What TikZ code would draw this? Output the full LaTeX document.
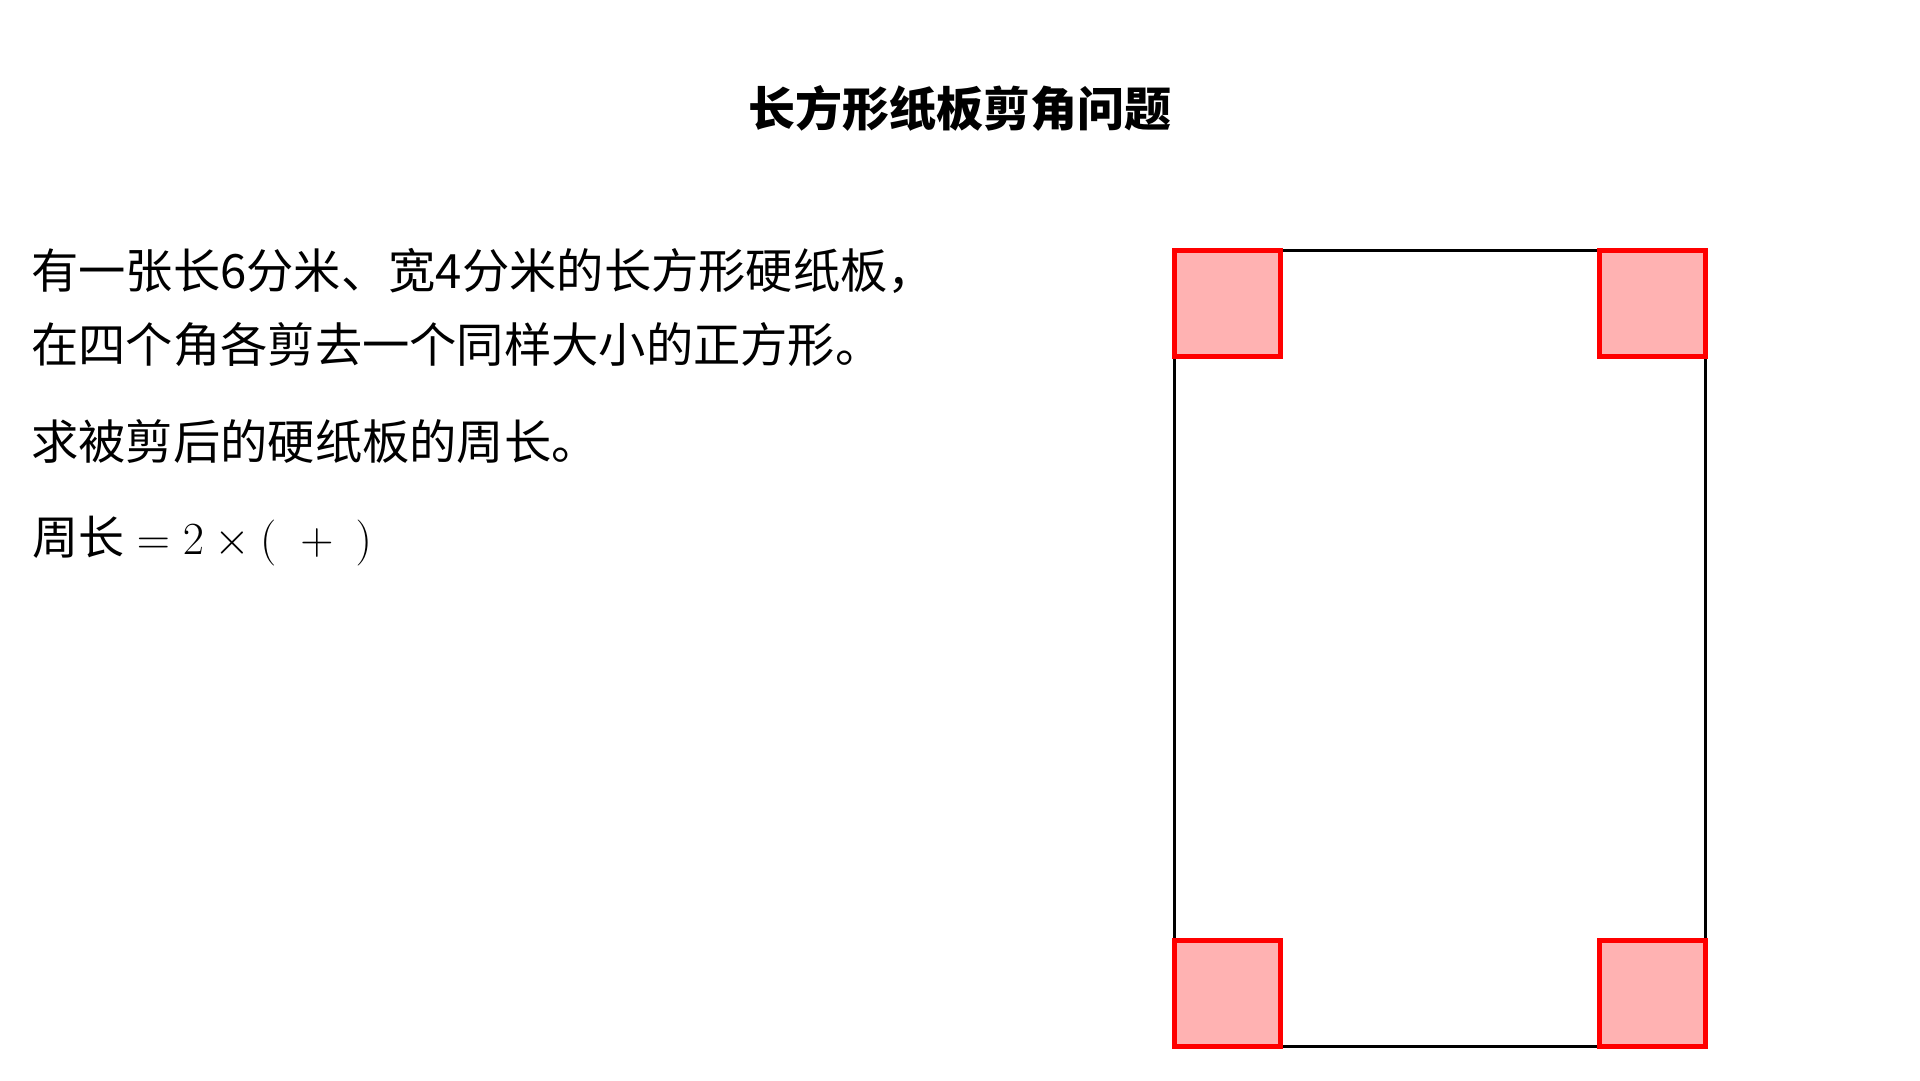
\RequirePackage{fix-cm}
\documentclass[tikz,border=0pt]{standalone}
\usepackage{fontspec}
\newfontfamily\cjk{Noto Sans CJK SC}
\begin{document}
\begin{tikzpicture}[x=1pt,y=-1pt,
  titletext/.style={font=\cjk\bfseries\fontsize{47}{56}\selectfont, anchor=base, inner sep=0pt},
  bodytext/.style={font=\cjk\fontsize{47.3}{57}\selectfont, anchor=base west, inner sep=0pt},
  mathtext/.style={font=\cjk\fontsize{46}{55}\selectfont, anchor=base west, inner sep=0pt},
  board/.style={draw=black, line width=3pt, minimum width=531pt, minimum height=796pt, inner sep=0pt, outer sep=0pt},
  cutsq/.style={draw=red, fill=red!30, line width=5pt, minimum width=106pt, minimum height=106pt, inner sep=0pt, outer sep=0pt}]
\useasboundingbox (0,0) rectangle (1920,1080);
\node[titletext] (title) at (960,126) {长方形纸板剪角问题};
\node[bodytext] (line1) at (31,288) {有一张长6分米、宽4分米的长方形硬纸板，};
\node[bodytext] (line2) at (31,362) {在四个角各剪去一个同样大小的正方形。};
\node[bodytext] (line3) at (31,459) {求被剪后的硬纸板的周长。};
\node[mathtext] (formula) at (32,554) {$\mbox{周长} = 2 \times (\hskip 24pt + \hskip 22pt)$};
\node[board] (board) at (1440,648) {};
\node[cutsq, anchor=north west] (cutNW) at (board.north west) {};
\node[cutsq, anchor=north east] (cutNE) at (board.north east) {};
\node[cutsq, anchor=south west] (cutSW) at (board.south west) {};
\node[cutsq, anchor=south east] (cutSE) at (board.south east) {};
\end{tikzpicture}
\end{document}
